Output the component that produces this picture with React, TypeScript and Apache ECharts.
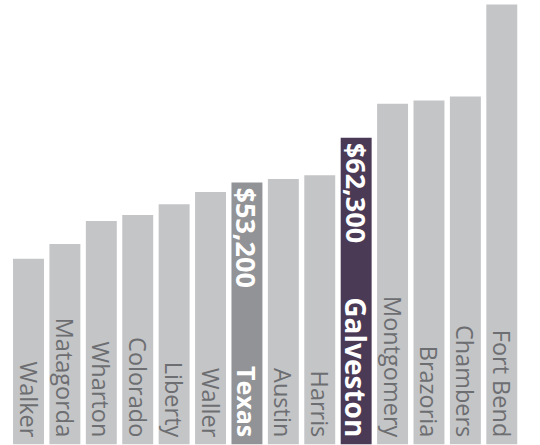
import React, { useEffect, useRef } from "react";
import * as echarts from "echarts";

const counties = [
  "Walker", "Matagorda", "Wharton", "Colorado", "Liberty", "Waller", "Texas",
  "Austin", "Harris", "Galveston", "Montgomery", "Brazoria", "Chambers", "Fort Bend",
];
const incomes = [
  37700, 40700, 45400, 46600, 48800, 51300, 53200,
  53900, 54700, 62300, 69200, 69900, 70700, 89400,
];
const highlightColors: Record<string, string> = {
  Texas: "#929396",
  Galveston: "#4a3a56",
};
const highlightNameSize: Record<string, number> = { Texas: 25, Galveston: 28 };
const baseColor = "#c4c5c7";
const labelColor = "#6d6e71";
const font = "'Open Sans', sans-serif";

export default function App() {
  const ref = useRef<HTMLDivElement>(null);
  useEffect(() => {
    if (!ref.current) return;
    const chart = echarts.init(ref.current, undefined, { renderer: "svg" });
    const mainData = counties.map((c, i) => {
      const hi = highlightColors[c];
      return {
        value: incomes[i],
        itemStyle: { color: hi || baseColor },
        label: hi
          ? { color: "#ffffff", fontWeight: "bold" as const, fontSize: highlightNameSize[c] }
          : { color: labelColor, fontWeight: "normal" as const, fontSize: 23.5 },
      };
    });
    const overlayData = counties.map((c, i) => {
      const hi = highlightColors[c];
      return {
        value: incomes[i],
        label: { show: !!hi },
      };
    });
    chart.setOption({
      animation: false,
      grid: { left: 10.3, right: 20, top: 1.5, bottom: 0.7, containLabel: false },
      xAxis: {
        type: "category",
        data: counties,
        show: false,
      },
      yAxis: { type: "value", min: 0, max: 90000, show: false },
      series: [
        {
          type: "bar",
          data: mainData,
          barCategoryGap: "15%",
          barGap: "-100%",
          silent: true,
          label: {
            show: true,
            position: "insideBottom",
            rotate: -90,
            align: "right",
            verticalAlign: "middle",
            distance: 7,
            fontFamily: font,
            formatter: (p: any) => p.name,
          },
        },
        {
          type: "bar",
          data: overlayData,
          barCategoryGap: "15%",
          barGap: "-100%",
          silent: true,
          itemStyle: { color: "rgba(0,0,0,0)" },
          label: {
            show: false,
            position: "insideTop",
            rotate: -90,
            align: "left",
            verticalAlign: "middle",
            distance: 5,
            fontSize: 27,
            fontWeight: "bold",
            color: "#ffffff",
            fontFamily: font,
            formatter: (p: any) => "$" + Number(p.value).toLocaleString("en-US"),
          },
        },
      ],
    });
    return () => chart.dispose();
  }, []);
  return (
    <div
      ref={ref}
      style={{ position: "absolute", left: 0, top: 0, width: 540, height: 445, background: "#ffffff" }}
    />
  );
}
